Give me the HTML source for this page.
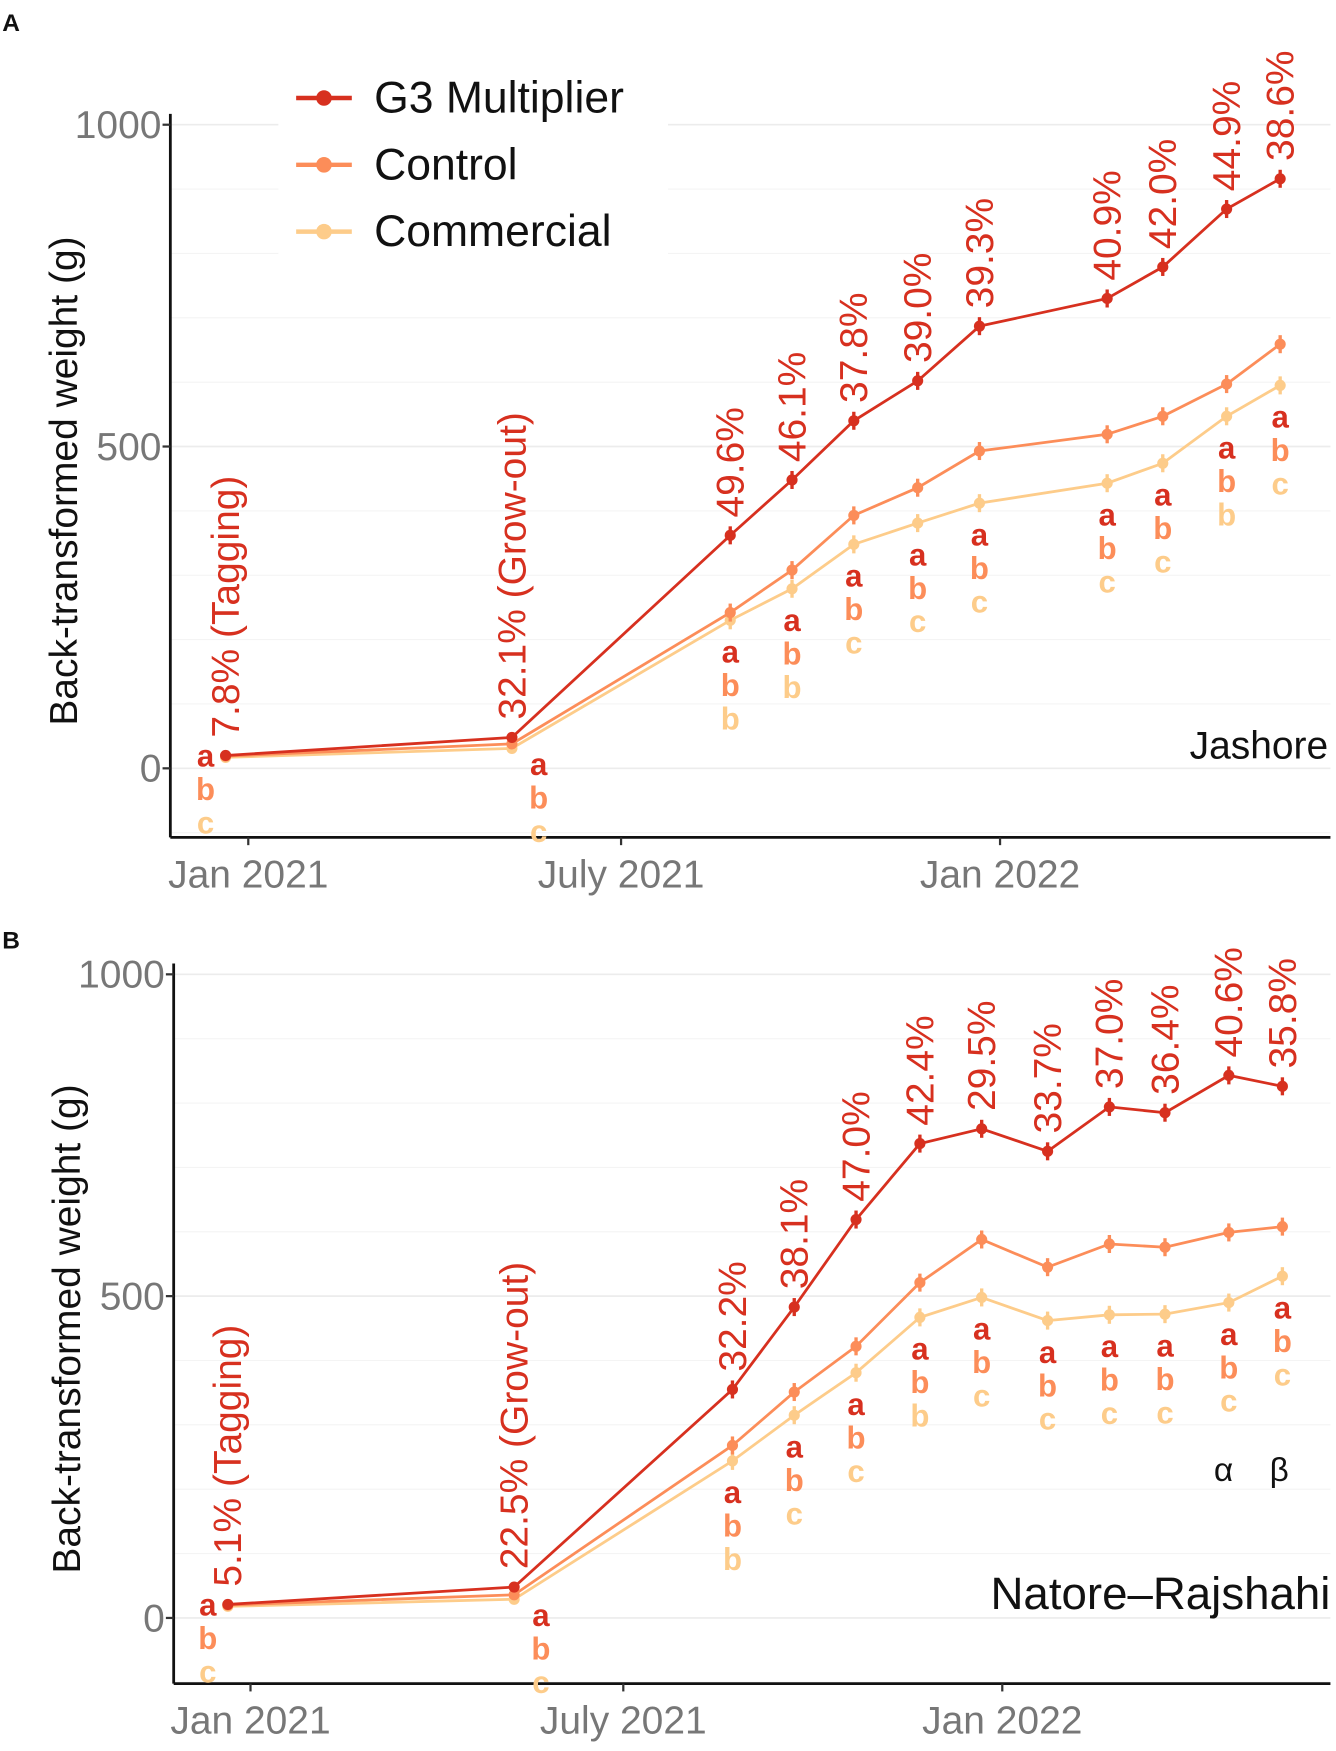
<!DOCTYPE html>
<html><head><meta charset="utf-8"><style>
body{margin:0;background:#fff;width:1336px;height:1746px;overflow:hidden}
svg{font-family:"Liberation Sans",sans-serif}
</style></head><body>
<svg id="chart" width="1336" height="1746" viewBox="0 0 1200 1568" preserveAspectRatio="none"></svg>
<script>
// Panel A data (Jashore)
const datesA = ["2020-12-21","2021-05-09","2021-08-23","2021-09-22","2021-10-22","2021-11-22","2021-12-22","2022-02-22","2022-03-21","2022-04-21","2022-05-17"];
const g3A = [20,48,362,448,540,602,687,730,779,869,916];
const ctrlA = [19,38,242,308,393,436,493,519,547,597,659];
const commA = [17,31,230,279,348,381,412,443,474,547,595];
const pctA = ["7.8% (Tagging)","32.1% (Grow-out)","49.6%","46.1%","37.8%","39.0%","39.3%","40.9%","42.0%","44.9%","38.6%"];
const lettersA = [["a","b","c"],["a","b","c"],["a","b","b"],["a","b","b"],["a","b","c"],["a","b","c"],["a","b","c"],["a","b","c"],["a","b","c"],["a","b","b"],["a","b","c"]];
// Panel B data (Natore–Rajshahi)
const datesB = ["2020-12-21","2021-05-09","2021-08-23","2021-09-22","2021-10-22","2021-11-22","2021-12-22","2022-01-23","2022-02-22","2022-03-21","2022-04-21","2022-05-17"];
const g3B = [21,48,355,483,619,737,760,725,794,785,843,826];
const ctrlB = [20,36,268,351,422,521,588,545,581,576,599,608];
const commB = [18,29,244,315,381,467,498,462,471,472,490,531];
const pctB = ["5.1% (Tagging)","22.5% (Grow-out)","32.2%","38.1%","47.0%","42.4%","29.5%","33.7%","37.0%","36.4%","40.6%","35.8%"];
const lettersB = [["a","b","c"],["a","b","c"],["a","b","b"],["a","b","c"],["a","b","c"],["a","b","b"],["a","b","c"],["a","b","c"],["a","b","c"],["a","b","c"],["a","b","c"],["a","b","c"]];
const yTicks = [0,500,1000];
const xTicks = [["2021-01-01","Jan 2021"],["2021-07-01","July 2021"],["2022-01-01","Jan 2022"]];
const COL = ["#d7301f","#fc8d59","#fdcc8a"];
const NS = "http://www.w3.org/2000/svg";
const svg = document.getElementById("chart");
function mk(tag, attrs, parent, text){
  const e = document.createElementNS(NS, tag);
  for (const k in attrs) e.setAttribute(k, attrs[k]);
  if (text !== undefined) e.textContent = text;
  (parent||svg).appendChild(e); return e;
}
function days(s){ return (Date.parse(s) - Date.parse("2021-01-01"))/86400000; }

function panel(cfg){
  const {x0, y0px, scaleY, axisX, axisBottom, dates, series, pcts, letters, tag, site, siteX, siteY, siteSize, name} = cfg;
  const g = mk("g", {});
  
  
  const X = d => x0 + days(d)*1.85;
  const Y = v => y0px - v*scaleY;
  for (let v=-100; v<=1000; v+=100){
    const ln = mk("line",{x1:axisX,x2:1195,y1:Y(v),y2:Y(v),stroke:v%500===0?"#ececec":"#f4f4f4","stroke-width":v%500===0?1.5:1},g);
    
    
  }
  const ya = mk("line",{x1:axisX,x2:axisX,y1:Y(1010)-4,y2:axisBottom,stroke:"#111","stroke-width":2.5},g);
   
  const xa = mk("line",{x1:axisX,x2:1195,y1:axisBottom,y2:axisBottom,stroke:"#111","stroke-width":2.5},g);
   
  yTicks.forEach(v=>{
    mk("line",{x1:axisX-7,x2:axisX,y1:Y(v),y2:Y(v),stroke:"#333","stroke-width":2},g);
    const t = mk("text",{x:axisX-8,y:Y(v)+12,"text-anchor":"end","font-size":35,fill:"#777"},g,String(v));
     
  });
  xTicks.forEach(([d,l])=>{
    mk("line",{x1:X(d),x2:X(d),y1:axisBottom,y2:axisBottom+7,stroke:"#333","stroke-width":2},g);
    const t = mk("text",{x:X(d),y:axisBottom+45,"text-anchor":"middle","font-size":35,fill:"#777"},g,l);
     
  });
  const yt = mk("text",{x:0,y:0,transform:`translate(${axisX-84},${(Y(1000)+axisBottom)/2}) rotate(-90)`,"text-anchor":"middle","font-size":35,fill:"#111"},g,"Back-transformed weight (g)");
   
  const tg = mk("text",{x:2,y:tag==="A"?28:852,"font-size":22,"font-weight":"bold",fill:"#111"},g,tag);
   
  const st = mk("text",{x:siteX,y:siteY,"text-anchor":"end","font-size":siteSize,fill:"#111"},g,site);
   
  [2,1,0].forEach(si=>{
    const vals = series[si];
    const pts = vals.map((v,i)=>X(dates[i])+","+Y(v)).join(" ");
    const pl = mk("polyline",{points:pts,fill:"none",stroke:COL[si],"stroke-width":2.5},g);
    
    
    vals.forEach((v,i)=>{
      const e = v>100 ? 14 : 3;
      const eb = mk("line",{x1:X(dates[i]),x2:X(dates[i]),y1:Y(v+e),y2:Y(v-e),stroke:COL[si],"stroke-width":3},g);
       
      const c = mk("circle",{cx:X(dates[i]),cy:Y(v),r:5,fill:COL[si]},g);
       
    });
  });
  pcts.forEach((p,i)=>{
    const x = X(dates[i]), y = Y(series[0][i]) - 16;
    const t = mk("text",{x:0,y:0,transform:`translate(${x+12},${y}) rotate(-90)`,"font-size":35,fill:"#d7301f"},g,p);
     
  });
  letters.forEach((ls,i)=>{
    let x = X(dates[i]), y;
    if (i===0){ x -= 18; y = Y(series[0][i]) + 10; }
    else if (i===1){ x += 24; y = Y(series[2][i]) + 24; }
    else { y = Y(series[2][i]) + 38; }
    ls.forEach((l,k)=>{
      const t = mk("text",{x:x,y:y+k*30,"text-anchor":"middle","font-size":28,"font-weight":"bold",fill:COL[k]},g,l);
       
    });
  });
}
panel({name:"panel-a-jashore",x0:223,y0px:690,scaleY:0.578,axisX:153,axisBottom:752,dates:datesA,series:[g3A,ctrlA,commA],pcts:pctA,letters:lettersA,tag:"A",site:"Jashore",siteX:1193,siteY:681,siteSize:35});
panel({name:"panel-b-natore-rajshahi",x0:225,y0px:1453,scaleY:0.578,axisX:156,axisBottom:1512,dates:datesB,series:[g3B,ctrlB,commB],pcts:pctB,letters:lettersB,tag:"B",site:"Natore–Rajshahi",siteX:1195,siteY:1445,siteSize:41});
const al = mk("text",{x:1099,y:1330,"text-anchor":"middle","font-size":30,fill:"#111"},svg,"α");
 
const be = mk("text",{x:1149,y:1330,"text-anchor":"middle","font-size":30,fill:"#111"},svg,"β");
 
const leg = mk("g",{});
 
mk("rect",{x:250,y:60,width:350,height:180,fill:"#fff"},leg);
["G3 Multiplier","Control","Commercial"].forEach((n,i)=>{
  const y = 88 + i*60;
  const e = mk("g",{},leg);
   
  mk("line",{x1:266,x2:316,y1:y,y2:y,stroke:COL[i],"stroke-width":4},e);
  mk("circle",{cx:291,cy:y,r:7,fill:COL[i]},e);
  mk("text",{x:336,y:y+13,"font-size":40,fill:"#111"},e,n);
});
</script>
</body></html>
